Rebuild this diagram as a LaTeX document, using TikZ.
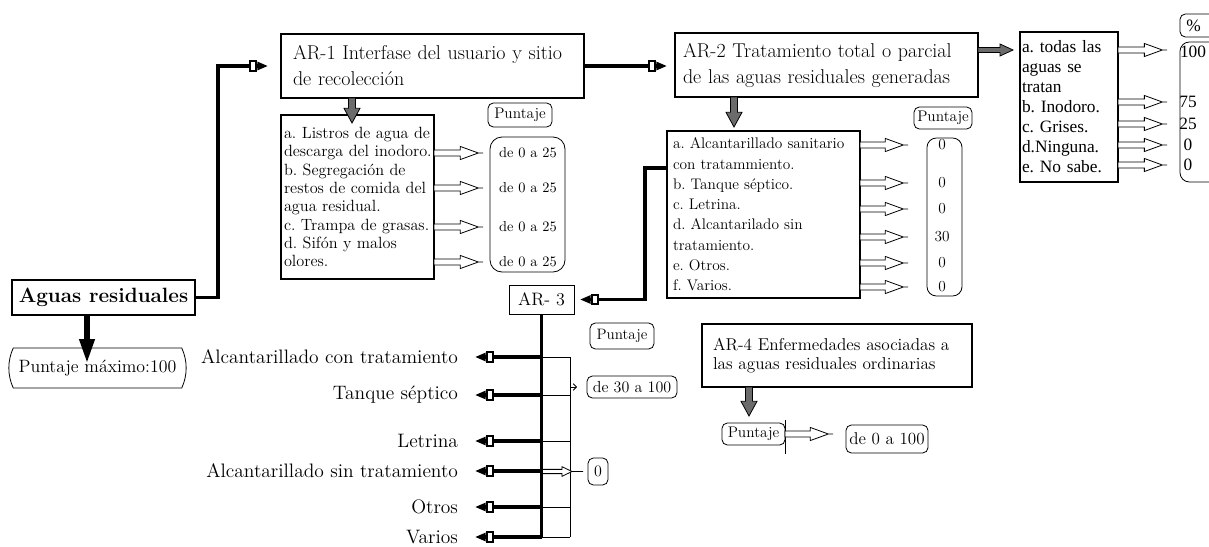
\documentclass[tikz,border=0pt]{standalone}
\usepackage{fontspec}
\newfontfamily\timesfont{Liberation Serif}
\usetikzlibrary{arrows.meta,calc,shapes.misc}
\newcommand{\pxl}{0.75pt}
\newcommand{\fsz}[2]{\fontsize{#1}{#2}\selectfont}
\frenchspacing
\begin{document}
\begin{tikzpicture}[x=0.75pt,y=-0.75pt,
  every node/.style={inner sep=0pt,outer sep=0pt},
  box/.style={draw,line width=0.8pt,align=left},
  tag/.style={draw,line width=0.6pt,rounded corners=4pt,align=center},
  thinline/.style={line width=0.6pt},
  blk/.style={line width=2.6pt,-{Rectangle[fill=white,length=6.5pt,width=8.5pt,line width=1.5pt]Triangle[length=8pt,width=6pt]}},
  bigblk/.style={line width=3.8pt,-{Triangle[length=18pt,width=11pt]}},
  hollow/.style={draw=black,fill=white,line width=0.6pt,
    to path={let \p1=(\tikztostart),\p2=(\tikztotarget) in
      (\x1,\y1+2.25pt) -- (\x2-17pt,\y1+2.25pt) -- (\x2-17pt,\y1+4.9pt) -- (\x2-3.5pt,\y1)
      -- (\x2-17pt,\y1-4.9pt) -- (\x2-17pt,\y1-2.25pt) -- (\x1,\y1-2.25pt) -- cycle
      (\x2-3.5pt,\y1) -- (\x2,\y1)}},
  hollowsm/.style={draw=black,fill=white,line width=0.6pt,
    to path={let \p1=(\tikztostart),\p2=(\tikztotarget) in
      (\x1,\y1+1.6pt) -- (\x2-15.75pt,\y1+1.6pt) -- (\x2-15.75pt,\y1+3.6pt) -- (\x2-8.25pt,\y1)
      -- (\x2-15.75pt,\y1-3.6pt) -- (\x2-15.75pt,\y1-1.6pt) -- (\x1,\y1-1.6pt) -- cycle
      (\x2-8.25pt,\y1) -- (\x2,\y1)}},
  grayd/.style={draw=black,fill=black!58,line width=0.6pt,
    to path={let \p1=(\tikztostart),\p2=(\tikztotarget) in
      (\x1-2.6pt,\y1) -- (\x1-2.6pt,\y2+11pt) -- (\x1-6pt,\y2+11pt) -- (\x1,\y2)
      -- (\x1+6pt,\y2+11pt) -- (\x1+2.6pt,\y2+11pt) -- (\x1+2.6pt,\y1) -- cycle}},
  grayr/.style={draw=black,fill=black!58,line width=0.6pt,
    to path={let \p1=(\tikztostart),\p2=(\tikztotarget) in
      (\x1,\y1+1.9pt) -- (\x2-9.75pt,\y1+1.9pt) -- (\x2-9.75pt,\y1+4.5pt) -- (\x2,\y1)
      -- (\x2-9.75pt,\y1-4.5pt) -- (\x2-9.75pt,\y1-1.9pt) -- (\x1,\y1-1.9pt) -- cycle}},
]
\useasboundingbox (0,0) rectangle (1209,546);
\clip (0,0) rectangle (1209,546);

% ---------- root ----------
\node[draw,line width=2.2pt,minimum width=137.25pt,minimum height=26.25pt,
      font=\bfseries\fsz{15.5}{18}] (aguas) at (103.5,297.5) {Aguas residuales};
\node[draw,line width=0.6pt,rounded rectangle,rounded rectangle arc length=50,
      minimum width=133pt,minimum height=30pt,font=\fsz{13.4}{16}] (pmax) at (97.5,368) {Puntaje máximo:100};

% ---------- AR-1 ----------
\node[box,minimum width=227.25pt,minimum height=48pt,text width=209.25pt,font=\fsz{15}{19.5}]
  (ar1) at (432.5,66) {\mbox{AR-1 Interfase del usuario y sitio}\\\mbox{de recolección}};
\node[box,minimum width=114.75pt,minimum height=123pt,text width=110.25pt,font=\fsz{12.2}{13.75}]
  (list1) at (357.5,197) {\mbox{a. Listros de agua de}\\\mbox{descarga del inodoro.}\\\mbox{b. Segregación de}\\
  \mbox{restos de comida del}\\\mbox{agua residual.}\\\mbox{c. Trampa de grasas.}\\\mbox{d. Sifón y malos}\\\mbox{olores.}};
\node[tag,minimum width=48pt,minimum height=18pt,font=\fsz{11.5}{14}] (pt1) at (520,115) {Puntaje};
\node[tag,rounded corners=9pt,minimum width=56.25pt,minimum height=101.25pt] (score1) at (527.5,204.5) {};
\foreach \n/\yy in {v1a/153,v1b/188,v1c/227,v1d/262}
  \node[font=\fsz{10.8}{13}] (\n) at (528,\yy) {de 0 a 25};

% ---------- AR-2 ----------
\node[box,minimum width=227.25pt,minimum height=48pt,text width=215.25pt,font=\fsz{15}{19.5}]
  (ar2) at (826.5,65) {\mbox{AR-2 Tratamiento total o parcial}\\\mbox{de las aguas residuales generadas}};
\node[box,minimum width=144.75pt,minimum height=125.25pt,text width=135.75pt,font=\fsz{11.5}{15.2}]
  (list2) at (763.5,214.5) {\mbox{a. Alcantarillado sanitario}\\\mbox{con tratammiento.}\\\mbox{b. Tanque séptico.}\\
  \mbox{c. Letrina.}\\\mbox{d. Alcantarilado sin}\\\mbox{tratamiento.}\\\mbox{e. Otros.}\\\mbox{f. Varios.}};
\node[tag,minimum width=43.5pt,minimum height=16.5pt,font=\fsz{11.5}{14}] (pt2) at (943,118) {Puntaje};
\node[tag,rounded corners=7pt,minimum width=26.25pt,minimum height=118.5pt] (score2) at (944.5,217) {};
\foreach \n/\yy/\t in {v2a/145/0,v2b/183/0,v2c/209/0,v2d/237/30,v2e/263/0,v2f/287/0}
  \node[font=\fsz{11.5}{14}] (\n) at (942,\yy) {\t};

% ---------- percentage list ----------
\node[box,minimum width=73.5pt,minimum height=112.5pt,text width=70.5pt,font=\timesfont\fsz{13}{15}]
  (list3) at (1069,107) {\mbox{a. todas las}\\\mbox{aguas se}\\\mbox{tratan}\\\mbox{b. Inodoro.}\\
  \mbox{c. Grises.}\\\mbox{d.Ninguna.}\\\mbox{e. No sabe.}};
\node[tag,minimum width=32.25pt,minimum height=17.25pt,font=\timesfont\fsz{13}{15}] (pct) at (1201.5,25.5) {\%\hspace{12pt}};
\node[tag,rounded corners=7pt,minimum width=33.75pt,minimum height=105pt] (score3) at (1202.5,112) {};
\node[font=\timesfont\fsz{13}{15}] (v3a) at (1193,52) {100};
\foreach \n/\yy/\t in {v3b/102/75,v3c/124/25,v3d/145/0,v3e/165/0}
  \node[font=\timesfont\fsz{13}{15}] (\n) at (1188,\yy) {\t};

% ---------- AR-3 ----------
\node[draw,line width=0.6pt,minimum width=48.75pt,minimum height=21.75pt,font=\fsz{13.5}{16}] (ar3) at (541.5,299.5) {AR- 3};
\foreach \n/\yy/\t in {l1/357/Alcantarillado con tratamiento,l2/395/Tanque séptico,l3/441/Letrina,
    l4/471/Alcantarillado sin tratamiento,l5/507/Otros,l6/537/Varios}
  \node[anchor=east,font=\fsz{14.6}{17}] (\n) at (458,\yy) {\t};
\node[tag,minimum width=48pt,minimum height=19.5pt,font=\fsz{11.3}{14}] (pt3) at (622,336) {Puntaje};
\node[tag,minimum width=67.5pt,minimum height=16.5pt,font=\fsz{12}{14}] (d30) at (632,387) {de 30 a 100};
\node[tag,minimum width=15pt,minimum height=20.25pt,font=\fsz{12}{14}] (zero) at (598,471.5) {0};

% ---------- AR-4 ----------
\node[box,minimum width=202.5pt,minimum height=47.25pt,text width=186pt,font=\fsz{12.9}{14.5}]
  (ar4) at (837,355.5) {\mbox{AR-4 Enfermedades asociadas a}\\\mbox{las aguas residuales ordinarias}};
\node[tag,minimum width=47.25pt,minimum height=16.5pt,font=\fsz{11.5}{14}] (pt4) at (753.5,434) {Puntaje};
\node[tag,minimum width=61.5pt,minimum height=21pt,font=\fsz{12.8}{15}] (d100) at (887,439) {de 0 a 100};

% ---------- black connectors ----------
\draw[blk,shorten >=9.75pt] (aguas.east) -- ++(23,0) |- (ar1.west);
\draw[blk,shorten >=6pt] (ar1.east) -- (ar1.east -| ar2.west);
\draw[blk,shorten >=4.5pt] ($(list2.north west)+(0,37)$) -- ++(-22,0) |- (ar3.east);
\draw[bigblk,shorten >=-11.25pt] ($(aguas.south)+(-16.5,0)$) -- ($(aguas.south |- pmax.north)+(-16.5,0)$);

% ---------- grey block arrows ----------
\path[grayd] ($(list1.north |- ar1.south)+(-5.5,0)$) to ($(list1.north)+(0,8)$);
\path[grayd] ($(list2.north |- ar2.south)+(-29.5,0)$) to ($(list2.north)+(0,-4)$);
\path[grayr] ($(ar2.east)+(0,-15)$) to ($(list3.west)+(-7,0)$);
\path[grayd] ($(pt4.north |- ar4.south)+(-4.5,0)$) to ($(pt4.north)+(0,-7)$);

% ---------- hollow arrows to the scores ----------
\foreach \n in {v1a,v1b,v1c,v1d}
  \path[hollow] (list1.east |- \n) to ($(score1.west)+(-7,0)$);
\foreach \n in {v2a,v2b,v2c,v2d,v2e,v2f}
  \path[hollow] (list2.east |- \n) to ($(score2.west)+(-19,0)$);
\path[hollow] ($(list3.east |- v3a)+(0,-2)$) to ($(score3.west)+(-13,0)$);
\foreach \n in {v3b,v3c,v3d,v3e}
  \path[hollow] (list3.east |- \n) to ($(score3.west)+(-13,0)$);
\draw[thinline] ($(pt4.north east)+(0,-3)$) -- ($(pt4.south east)+(0,9)$);
\path[hollow] (pt4.east) to ($(d100.west)+(-13,0)$);

% ---------- AR-3 tree ----------
\foreach \n in {l1,l2,l3,l4,l5,l6}
  \draw[thinline] (ar3.south |- \n.east) -- ($(ar3.south |- \n.east)+(28.5,0)$);
\draw[thinline] ($(ar3.south |- l1.east)+(28.5,0)$) -- ($(ar3.south |- l6.east)+(28.5,0)$);
\draw[thinline,-{Straight Barb[length=2.5pt,width=5pt]}] ($(ar3.south |- d30.west)+(28.5,0)$) -- ($(d30.west)+(-10,0)$);
\path[hollowsm] (ar3.south |- zero.west) to ($(zero.west)+(-5,0)$);
\draw[line width=2.6pt] (ar3.south) -- (ar3.south |- l6.east);
\foreach \n in {l1,l2,l3,l4,l5,l6}
  \draw[blk,shorten >=12.75pt] (ar3.south |- \n.east) -- (\n.east);
\end{tikzpicture}
\end{document}
